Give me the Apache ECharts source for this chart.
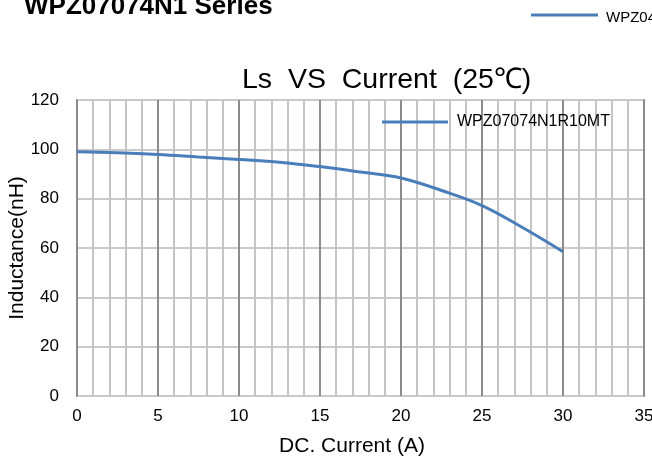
<!DOCTYPE html>
<html>
<head>
<meta charset="utf-8">
<script src="https://cdn.jsdelivr.net/npm/echarts@6/dist/echarts.min.js"></script>
<style>
html,body{margin:0;padding:0;background:#fff;}
#chart{width:652px;height:456px;}
</style>
</head>
<body>
<div id="chart"></div>
<script>
// Data
var seriesName = 'WPZ07074N1R10MT';
var currentA = [0, 2.5, 5, 7.5, 10, 12.5, 15, 17.5, 20, 22.5, 25, 27.5, 30];
var inductanceNH = [99, 98.6, 97.9, 96.9, 95.9, 94.8, 93, 90.8, 88.4, 83.3, 77.2, 68.3, 58.5];
var chartTitle = 'Ls  VS  Current  (25\u2103)';
var pageTitle = 'WPZ07074N1 Series';
var otherLegend = 'WPZ04';
var xName = 'DC. Current (A)';
var yName = 'Inductance(nH)';

var FONT = "'Liberation Sans', Arial, sans-serif";
var points = currentA.map(function (x, i) { return [x, inductanceNH[i]]; });

var chart = echarts.init(document.getElementById('chart'), null, {renderer: 'canvas'});
chart.setOption({
  animation: false,
  backgroundColor: '#fff',
  title: {
    text: chartTitle,
    left: 242,
    top: 66,
    padding: 0,
    textStyle: {fontFamily: FONT, fontSize: 28.5, fontWeight: 'normal', color: '#000'}
  },
  legend: {
    left: 382,
    top: 114,
    padding: 0,
    icon: 'rect',
    itemWidth: 66,
    itemHeight: 3,
    textStyle: {fontFamily: FONT, fontSize: 16, color: '#000', padding: [0, 0, 0, 4]},
    data: [seriesName]
  },
  graphic: [
    {type: 'text', left: 24, top: -6, style: {text: pageTitle, font: 'bold 26px ' + FONT, fill: '#000'}},
    {type: 'line', shape: {x1: 531, y1: 15, x2: 598, y2: 15}, style: {stroke: '#4a7ebb', lineWidth: 3}},
    {type: 'text', left: 606, top: 10, style: {text: otherLegend, font: '15px ' + FONT, fill: '#000'}}
  ],
  grid: {
    left: 77, top: 100, width: 567, height: 296,
    show: true, borderColor: '#222', borderWidth: 1.5,
    containLabel: false,
    outerBoundsMode: 'none'
  },
  xAxis: {
    type: 'value', min: 0, max: 35, interval: 5,
    name: xName, nameLocation: 'middle', nameGap: 40,
    nameTextStyle: {fontFamily: FONT, fontSize: 21, color: '#000', padding: [0, 17, 0, 0]},
    axisLine: {show: false}, axisTick: {show: false},
    axisLabel: {fontFamily: FONT, fontSize: 17, color: '#000', margin: 12},
    splitLine: {show: true, lineStyle: {color: '#8c8c8c', width: 2}},
    minorTick: {show: false, splitNumber: 5},
    minorSplitLine: {show: true, lineStyle: {color: '#c4c4c4', width: 2}}
  },
  yAxis: {
    type: 'value', min: 0, max: 120, interval: 20,
    name: yName, nameLocation: 'middle', nameGap: 49, nameRotate: 90,
    nameMoveOverlap: false,
    nameTextStyle: {fontFamily: FONT, fontSize: 21, color: '#000'},
    axisLine: {show: false}, axisTick: {show: false},
    axisLabel: {fontFamily: FONT, fontSize: 17, color: '#000', margin: 18},
    splitLine: {show: true, lineStyle: {color: '#cacaca', width: 2}}
  },
  series: [{
    name: seriesName,
    type: 'line',
    data: points,
    smooth: 0.4,
    symbol: 'none',
    lineStyle: {color: '#4a7ebb', width: 3},
    itemStyle: {color: '#4a7ebb'},
    z: 5
  }]
});
</script>
</body>
</html>
